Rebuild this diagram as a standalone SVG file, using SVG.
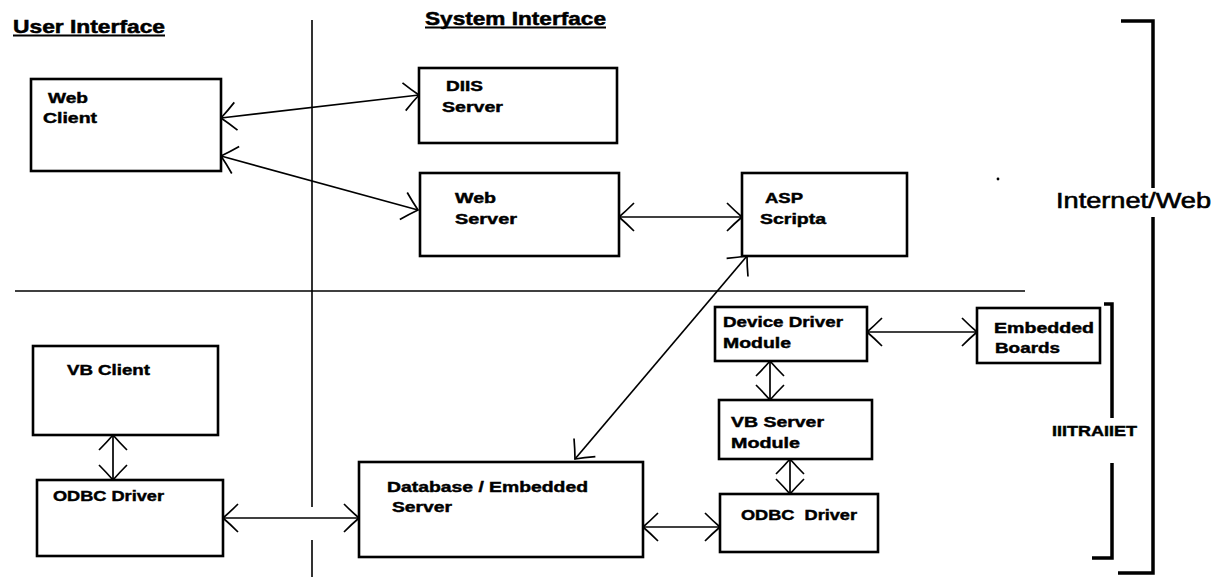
<svg xmlns="http://www.w3.org/2000/svg" width="1217" height="577" viewBox="0 0 1217 577">
  <defs>
    <style>
      .box { fill: #fff; stroke: #000; stroke-width: 2.6; }
      .lbl { font-family: "Liberation Sans", Arial, sans-serif; font-weight: bold; font-size: 15px; fill: #000; stroke: #000; stroke-width: 0.45; }
      .hdr { font-family: "Liberation Sans", Arial, sans-serif; font-weight: bold; font-size: 18px; fill: #000; stroke: #000; stroke-width: 0.5; }
      .div { stroke: #000; stroke-width: 1.6; fill: none; }
      .brk { stroke: #000; stroke-width: 3.5; fill: none; }
      .con { stroke: #000; stroke-width: 1.7; fill: none; marker-start: url(#arr); marker-end: url(#arr); }
    </style>
    <marker id="arr" viewBox="0 0 18 32" refX="17" refY="16" markerWidth="18" markerHeight="32" markerUnits="userSpaceOnUse" orient="auto-start-reverse">
      <path d="M2,2 Q10,10 17,16 Q10,22 2,30" fill="none" stroke="#000" stroke-width="1.7"/>
    </marker>
  </defs>
  <rect width="1217" height="577" fill="#fff"/>

  <!-- section dividers and headings -->
  <g id="dividers">
    <path class="div" d="M312,20 V507 M312,540 V577"/>
    <path class="div" d="M15,291 H1025"/>
    <text class="hdr" x="13" y="33" textLength="152" lengthAdjust="spacingAndGlyphs">User Interface</text>
    <line x1="13" y1="35.5" x2="165" y2="35.5" stroke="#000" stroke-width="2"/>
    <text class="hdr" x="425" y="25" font-size="19" textLength="181" lengthAdjust="spacingAndGlyphs">System Interface</text>
    <line x1="425" y1="27.5" x2="606" y2="27.5" stroke="#000" stroke-width="2"/>
    <circle cx="998" cy="179" r="1.4" fill="#000"/>
  </g>

  <!-- scope brackets -->
  <g id="internet-web">
    <path class="brk" d="M1121,21 H1153 V188 M1153,217 V573 H1118"/>
    <text x="1056" y="208" font-family="Liberation Sans, Arial, sans-serif" font-size="22" fill="#000" stroke="#000" stroke-width="0.6" textLength="155" lengthAdjust="spacingAndGlyphs">Internet/Web</text>
  </g>
  <g id="intranet">
    <path class="brk" stroke-width="3" d="M1104,304 H1112 V418 M1112,463 V558 H1092"/>
    <text class="lbl" x="1052" y="436" font-size="17" textLength="85" lengthAdjust="spacingAndGlyphs">IIITRAIIET</text>
  </g>

  <!-- nodes -->
  <g id="web-client">
    <rect class="box" x="31" y="79" width="190" height="92"/>
    <text class="lbl" x="48" y="103" textLength="40" lengthAdjust="spacingAndGlyphs">Web</text>
    <text class="lbl" x="43" y="123" textLength="54" lengthAdjust="spacingAndGlyphs">Client</text>
  </g>
  <g id="diis-server">
    <rect class="box" x="419" y="68" width="198" height="75"/>
    <text class="lbl" x="446" y="91" textLength="37" lengthAdjust="spacingAndGlyphs">DIIS</text>
    <text class="lbl" x="442" y="112" textLength="61" lengthAdjust="spacingAndGlyphs">Server</text>
  </g>
  <g id="web-server">
    <rect class="box" x="420" y="173" width="199" height="83"/>
    <text class="lbl" x="455" y="203" textLength="41" lengthAdjust="spacingAndGlyphs">Web</text>
    <text class="lbl" x="455" y="224" textLength="62" lengthAdjust="spacingAndGlyphs">Server</text>
  </g>
  <g id="asp-scripts">
    <rect class="box" x="742" y="173" width="165" height="83"/>
    <text class="lbl" x="765" y="203" textLength="38" lengthAdjust="spacingAndGlyphs">ASP</text>
    <text class="lbl" x="760" y="224" textLength="66" lengthAdjust="spacingAndGlyphs">Scripta</text>
  </g>
  <g id="vb-client">
    <rect class="box" x="33" y="346" width="185" height="89"/>
    <text class="lbl" x="67" y="375" textLength="83" lengthAdjust="spacingAndGlyphs">VB Client</text>
  </g>
  <g id="odbc-driver-client">
    <rect class="box" x="37" y="480" width="186" height="76"/>
    <text class="lbl" x="53" y="501" textLength="111" lengthAdjust="spacingAndGlyphs">ODBC Driver</text>
  </g>
  <g id="database-server">
    <rect class="box" x="359" y="462" width="284" height="95"/>
    <text class="lbl" x="387" y="492" textLength="201" lengthAdjust="spacingAndGlyphs">Database / Embedded</text>
    <text class="lbl" x="392" y="512" textLength="60" lengthAdjust="spacingAndGlyphs">Server</text>
  </g>
  <g id="device-driver-module">
    <rect class="box" x="715" y="307" width="152" height="54"/>
    <text class="lbl" x="723" y="327" textLength="120" lengthAdjust="spacingAndGlyphs">Device Driver</text>
    <text class="lbl" x="723" y="348" textLength="68" lengthAdjust="spacingAndGlyphs">Module</text>
  </g>
  <g id="embedded-boards">
    <rect class="box" x="977" y="308" width="123" height="55"/>
    <text class="lbl" x="994" y="333" textLength="100" lengthAdjust="spacingAndGlyphs">Embedded</text>
    <text class="lbl" x="995" y="353" textLength="65" lengthAdjust="spacingAndGlyphs">Boards</text>
  </g>
  <g id="vb-server-module">
    <rect class="box" x="719" y="400" width="153" height="59"/>
    <text class="lbl" x="731" y="427" textLength="93" lengthAdjust="spacingAndGlyphs">VB Server</text>
    <text class="lbl" x="731" y="448" textLength="69" lengthAdjust="spacingAndGlyphs">Module</text>
  </g>
  <g id="odbc-driver-server">
    <rect class="box" x="720" y="494" width="158" height="58"/>
    <text class="lbl" x="741" y="520" textLength="116" lengthAdjust="spacingAndGlyphs" xml:space="preserve">ODBC  Driver</text>
  </g>

  <!-- connectors (all bidirectional) -->
  <g id="connectors">
    <line class="con" x1="221" y1="118" x2="419" y2="95"/>
    <line class="con" x1="221" y1="156" x2="418" y2="210"/>
    <line class="con" x1="619" y1="217" x2="742" y2="217"/>
    <line class="con" x1="747" y1="256" x2="575" y2="459"/>
    <line class="con" x1="113" y1="435" x2="113" y2="480"/>
    <line class="con" x1="223" y1="518" x2="359" y2="518"/>
    <line class="con" x1="643" y1="527" x2="720" y2="527"/>
    <line class="con" x1="867" y1="332" x2="977" y2="332"/>
    <line class="con" x1="770" y1="361" x2="770" y2="400"/>
    <line class="con" x1="790" y1="459" x2="790" y2="494"/>
  </g>
</svg>
